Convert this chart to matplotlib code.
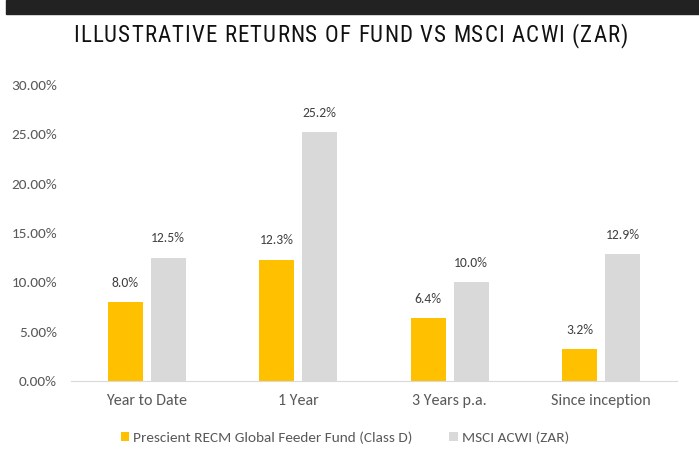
import numpy as np
import matplotlib
matplotlib.use("Agg")
import matplotlib.pyplot as plt
from matplotlib.patches import Rectangle
from matplotlib.ticker import FuncFormatter

CATEGORIES = ["Year to Date", "1 Year", "3 Years p.a.", "Since inception"]
FUND = [8.0, 12.3, 6.4, 3.2]
MSCI = [12.5, 25.2, 10.0, 12.9]
SERIES = ["Prescient RECM Global Feeder Fund (Class D)", "MSCI ACWI (ZAR)"]
YTICKS = [0, 5, 10, 15, 20, 25, 30]
TITLE = "ILLUSTRATIVE RETURNS OF FUND VS MSCI ACWI (ZAR)"

YELLOW = "#FFC000"
GREY = "#D9D9D9"
TXT = "#595959"

plt.rcParams["font.family"] = ["Carlito", "DejaVu Sans"]

W, H = 699, 473
fig = plt.figure(figsize=(W / 100, H / 100), dpi=100)
fig.patches.append(Rectangle((6 / W, 1 - 14 / H), 1, 14 / H,
                             transform=fig.transFigure, color="#222222", zorder=0))

# title: condensed face with letter spacing, placed glyph by glyph
r = fig.canvas.get_renderer()
tkw = dict(fontsize=16.5, color="#111111", family=["Roboto Condensed", "DejaVu Sans"],
           va="center", ha="left")
probe = fig.text(0, 0, "", **tkw)
widths = []
for ch in TITLE:
    probe.set_text("x" + ch + "x")
    w3 = probe.get_window_extent(r).width
    probe.set_text("xx")
    widths.append(w3 - probe.get_window_extent(r).width)
probe.remove()
target = 628 - 73
track = (target - sum(widths)) / (len(TITLE) - 1)
xpos = 73
for ch, wch in zip(TITLE, widths):
    fig.text(xpos / W, 1 - 36 / H, ch, **tkw)
    xpos += wch + track

ax = fig.add_axes([71 / W, 92 / H, 606 / W, 296 / H])
x = np.arange(len(CATEGORIES))
w = 0.23
off = 0.142
b1 = ax.bar(x - off, FUND, w, color=YELLOW, label=SERIES[0])
b2 = ax.bar(x + off, MSCI, w, color=GREY, label=SERIES[1])
for bars, vals in ((b1, FUND), (b2, MSCI)):
    for b, v in zip(bars, vals):
        ax.annotate(f"{v:.1f}%", (b.get_x() + b.get_width() / 2, v),
                    xytext=(0, 9.5), textcoords="offset points",
                    ha="center", va="bottom", fontsize=9.8, color="#404040")

ax.set_xlim(-0.5, 3.5)
ax.set_ylim(0, 30)
ax.set_yticks(YTICKS)
ax.yaxis.set_major_formatter(FuncFormatter(lambda v, p: f"{v:.2f}%"))
ax.set_xticks(x)
ax.set_xticklabels(CATEGORIES)
ax.tick_params(axis="y", length=0, labelsize=11, colors=TXT, pad=10)
ax.tick_params(axis="x", length=0, labelsize=11.5, colors=TXT, pad=9)
for s in ("top", "right", "left"):
    ax.spines[s].set_visible(False)
ax.spines["bottom"].set_color(GREY)

fig.legend(handles=[b1, b2], labels=SERIES, loc="center left",
           bbox_to_anchor=(121 / W, 1 - 438 / H), ncol=2, frameon=False,
           fontsize=11, borderpad=0, borderaxespad=0,
           handlelength=0.55, handleheight=0.55, handletextpad=0.26,
           columnspacing=2.4, labelcolor=TXT)

fig.savefig("out.png", dpi=100)
